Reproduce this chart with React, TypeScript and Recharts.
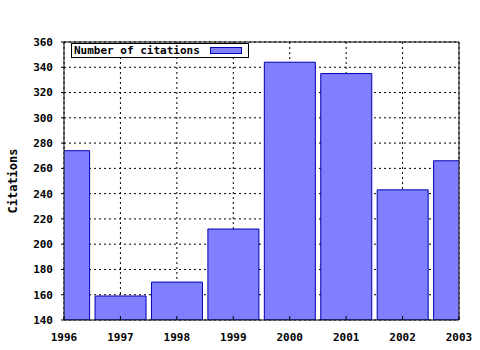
import React from "react";
import {
  BarChart,
  Bar,
  XAxis,
  YAxis,
  CartesianGrid,
  Legend,
} from "recharts";

const years = [1996, 1997, 1998, 1999, 2000, 2001, 2002, 2003];
const citations = [274, 159, 170, 212, 344, 335, 243, 266];
const yTicks = [140, 160, 180, 200, 220, 240, 260, 280, 300, 320, 340, 360];

const data = years.map((year, i) => ({ year, citations: citations[i] }));

const font = "'DejaVu Sans Mono', monospace";
const tickStyle = { fontFamily: font, fontSize: 11, fontWeight: 700, fill: "#000" };

function LegendBox() {
  return (
    <div
      style={{
        border: "1px solid #000",
        background: "#fff",
        padding: "0 6px 0 2px",
        height: 13,
        display: "flex",
        alignItems: "center",
        fontFamily: font,
        fontSize: 11,
        fontWeight: 700,
        whiteSpace: "nowrap",
        lineHeight: "13px",
      }}
    >
      <span>Number of citations</span>
      <span
        style={{
          display: "inline-block",
          width: 30,
          height: 5,
          marginLeft: 10,
          background: "#8080ff",
          border: "1px solid #0000b0",
        }}
      />
    </div>
  );
}

export default function App() {
  return (
    <div style={{ position: "absolute", left: 0, top: 0, width: 480, height: 350, background: "#fff" }}>
      <BarChart
        width={480}
        height={350}
        data={data}
        margin={{ top: 41, right: 20, bottom: 0, left: 0 }}
        barCategoryGap="5%"
      >
        <CartesianGrid stroke="#000" strokeDasharray="2 3" />
        <XAxis
          dataKey="year"
          type="number"
          domain={[1996, 2003]}
          ticks={years}
          allowDataOverflow
          height={30}
          axisLine={{ stroke: "#000" }}
          tickLine={{ stroke: "#000" }}
          tickSize={-4}
          tickMargin={17}
          tick={tickStyle}
          interval={0}
        />
        <XAxis
          xAxisId="top"
          dataKey="year"
          orientation="top"
          type="number"
          domain={[1996, 2003]}
          ticks={years}
          allowDataOverflow
          height={1}
          axisLine={{ stroke: "#000" }}
          tickLine={{ stroke: "#000" }}
          tickSize={-4}
          tick={false}
        />
        <YAxis
          domain={[140, 360]}
          ticks={yTicks}
          allowDataOverflow
          width={64}
          axisLine={{ stroke: "#000" }}
          tickLine={{ stroke: "#000" }}
          tickSize={3}
          tickMargin={8}
          tick={tickStyle}
          interval={0}
          label={{
            value: "Citations",
            angle: -90,
            position: "insideLeft",
            offset: 13,
            style: { textAnchor: "middle", fontFamily: font, fontSize: 12, fontWeight: 700, fill: "#000" },
          }}
        />
        <YAxis
          yAxisId="right"
          orientation="right"
          domain={[140, 360]}
          ticks={yTicks}
          width={1}
          axisLine={{ stroke: "#000" }}
          tickLine={false}
          tick={false}
        />
        <Legend
          layout="horizontal"
          verticalAlign="middle"
          align="center"
          content={() => <LegendBox />}
          wrapperStyle={{ left: 71, top: 43, width: "auto", height: "auto" }}
        />
        <Bar
          dataKey="citations"
          fill="#8080ff"
          stroke="#0000b0"
          strokeWidth={1}
          isAnimationActive={false}
        />
      </BarChart>
    </div>
  );
}
